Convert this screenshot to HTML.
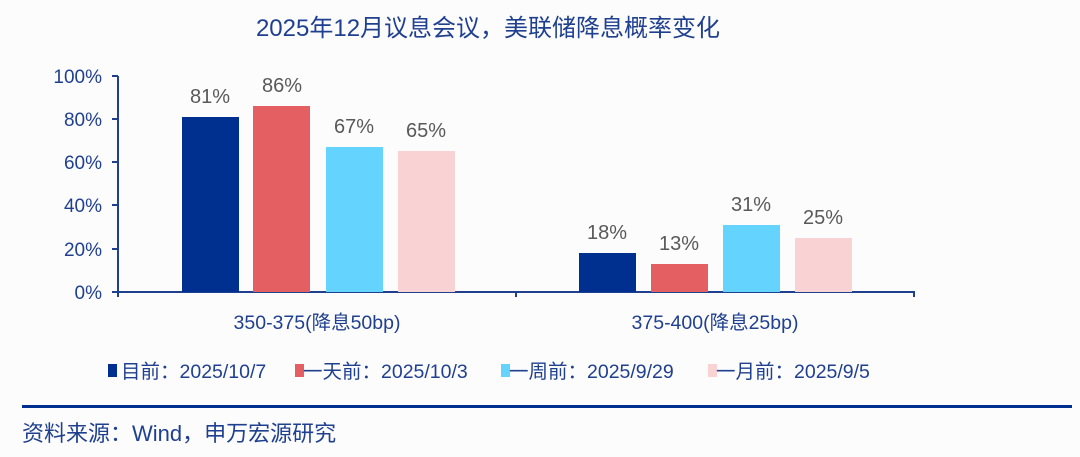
<!DOCTYPE html><html><head><meta charset="utf-8"><style>
body{margin:0;width:1080px;height:452px;background:#fcfcfd;overflow:hidden}
svg text{font-family:"Liberation Sans","Noto Sans CJK SC",sans-serif}
</style></head><body>
<svg width="1080" height="452" xmlns="http://www.w3.org/2000/svg">
<text x="488" y="36" text-anchor="middle" font-size="24" fill="#1f3f8f">2025年12月议息会议，美联储降息概率变化</text>
<g fill="#1f3f8f" font-size="19" text-anchor="end">
<text x="102" y="83">100%</text><text x="102" y="126">80%</text><text x="102" y="169">60%</text><text x="102" y="212">40%</text><text x="102" y="256">20%</text><text x="102" y="299">0%</text></g>
<g stroke="#1f3f8f" stroke-width="2">
<line x1="118" y1="76" x2="118" y2="297"/><line x1="112" y1="292" x2="915" y2="292"/>
<line x1="112" y1="76" x2="118" y2="76"/><line x1="112" y1="119" x2="118" y2="119"/><line x1="112" y1="162" x2="118" y2="162"/><line x1="112" y1="205" x2="118" y2="205"/><line x1="112" y1="249" x2="118" y2="249"/>
<line x1="516" y1="292" x2="516" y2="297"/><line x1="914" y1="292" x2="914" y2="297"/></g>
<rect x="182" y="117" width="57" height="175" fill="#00308f"/>
<rect x="253" y="106" width="57" height="186" fill="#e35f61"/>
<rect x="326" y="147" width="57" height="145" fill="#64d4fe"/>
<rect x="398" y="151" width="57" height="141" fill="#f9d2d4"/>
<rect x="579" y="253" width="57" height="39" fill="#00308f"/>
<rect x="651" y="264" width="57" height="28" fill="#e35f61"/>
<rect x="723" y="225" width="57" height="67" fill="#64d4fe"/>
<rect x="795" y="238" width="57" height="54" fill="#f9d2d4"/>
<g fill="#595959" font-size="20" text-anchor="middle">
<text x="210" y="103">81%</text><text x="282" y="92">86%</text><text x="354" y="133">67%</text><text x="426" y="137">65%</text>
<text x="607" y="239">18%</text><text x="679" y="250">13%</text><text x="751" y="211">31%</text><text x="823" y="224">25%</text></g>
<g fill="#1f3f8f" font-size="19.5" text-anchor="middle">
<text x="317" y="329">350-375(降息50bp)</text><text x="715" y="329">375-400(降息25bp)</text></g>
<g font-size="19.5" fill="#1f3f8f">
<rect x="108" y="364" width="9" height="13" fill="#00308f"/><text x="121" y="378">目前：2025/10/7</text>
<rect x="295" y="364" width="9" height="13" fill="#e35f61"/><text x="303" y="378">一天前：2025/10/3</text>
<rect x="501" y="364" width="9" height="13" fill="#64d4fe"/><text x="509" y="378">一周前：2025/9/29</text>
<rect x="708" y="364" width="9" height="13" fill="#f9d2d4"/><text x="716" y="378">一月前：2025/9/5</text></g>
<rect x="22" y="405" width="1050" height="3" fill="#00308f"/>
<text x="22" y="441" font-size="22" fill="#1f3f8f">资料来源：Wind，申万宏源研究</text>
</svg></body></html>
